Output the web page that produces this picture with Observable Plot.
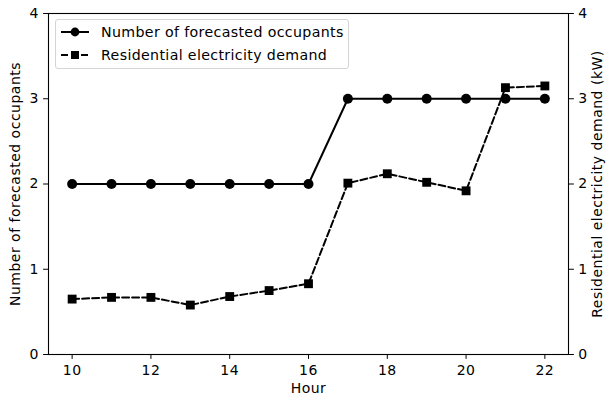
<!DOCTYPE html>
<html><head><meta charset="utf-8">
<script src="https://cdn.jsdelivr.net/npm/d3@7"></script>
<script src="https://cdn.jsdelivr.net/npm/@observablehq/plot@0.6"></script>
<style>
body{margin:0;background:#fff;font-family:"DejaVu Sans",sans-serif;}
#wrap{position:relative;width:607px;height:399px;}
#legend{position:absolute;left:55px;top:19px;width:292px;height:48px;border:1px solid #d4d4d4;border-radius:3px;background:rgba(255,255,255,0.8);font-size:14.2px;letter-spacing:0.35px;color:#000;}
.row{position:absolute;left:4px;height:20px;display:flex;align-items:center;}
.row span{margin-left:11px;white-space:nowrap;}
</style></head>
<body><div id="wrap"><div id="chart"></div>
<div id="legend">
<div class="row" style="top:2px"><svg width="30" height="12"><line x1="1" x2="29" y1="6" y2="6" stroke="#000" stroke-width="2"/><circle cx="15" cy="6" r="4.4" fill="#000"/></svg><span>Number of forecasted occupants</span></div>
<div class="row" style="top:25px"><svg width="30" height="12"><line x1="1" x2="29" y1="6" y2="6" stroke="#000" stroke-width="2" stroke-dasharray="7,3"/><rect x="11" y="2" width="8" height="8" fill="#000"/></svg><span>Residential electricity demand</span></div>
</div></div>
<script>
const hours = [10,11,12,13,14,15,16,17,18,19,20,21,22];
const occupants = [2,2,2,2,2,2,2,3,3,3,3,3,3];
const electricity = [0.65,0.67,0.67,0.58,0.68,0.75,0.83,2.01,2.12,2.02,1.92,3.13,3.15];
const xTicks = [10,12,14,16,18,20,22];
const yTicks = [0,1,2,3,4];

const occ = hours.map((h,i)=>({h, v: occupants[i]}));
const ele = hours.map((h,i)=>({h, v: electricity[i]}));

const chart = Plot.plot({
  width: 607, height: 399,
  marginLeft: 48, marginRight: 39, marginTop: 13, marginBottom: 45,
  style: {fontFamily: "DejaVu Sans, sans-serif", fontSize: "14px", letterSpacing: "0.5px", color: "#000", background: "#fff"},
  x: {domain: [9.4, 22.6]},
  y: {domain: [0, 4]},
  marks: [
    Plot.axisX({ticks: xTicks, tickSize: 4.9, tickPadding: 5.5, label: "Hour", labelAnchor: "center", labelArrow: "none", labelOffset: 38, fontSize: 14, tickFormat: d => String(d)}),
    Plot.axisY({ticks: yTicks, tickSize: 4.9, tickPadding: 4.8, label: "Number of forecasted occupants", labelAnchor: "center", labelArrow: "none", labelOffset: 38, fontSize: 14, tickFormat: d => String(d)}),
    Plot.axisY({anchor: "right", ticks: yTicks, tickSize: 4.9, tickPadding: 4.8, label: "Residential electricity demand (kW)", labelAnchor: "center", labelArrow: "none", labelOffset: 33, labelRotate: -90, fontSize: 14, tickFormat: d => String(d)}),
    Plot.frame({stroke: "#000", strokeWidth: 1.1}),
    Plot.line(occ, {x: "h", y: "v", stroke: "#000", strokeWidth: 2}),
    Plot.dot(occ, {x: "h", y: "v", r: 5, fill: "#000", symbol: "circle"}),
    Plot.line(ele, {x: "h", y: "v", stroke: "#000", strokeWidth: 2, strokeDasharray: "7,3"}),
    Plot.dot(ele, {x: "h", y: "v", r: 5, fill: "#000", symbol: "square"})
  ]
});
document.getElementById("chart").appendChild(chart);
</script></body></html>
